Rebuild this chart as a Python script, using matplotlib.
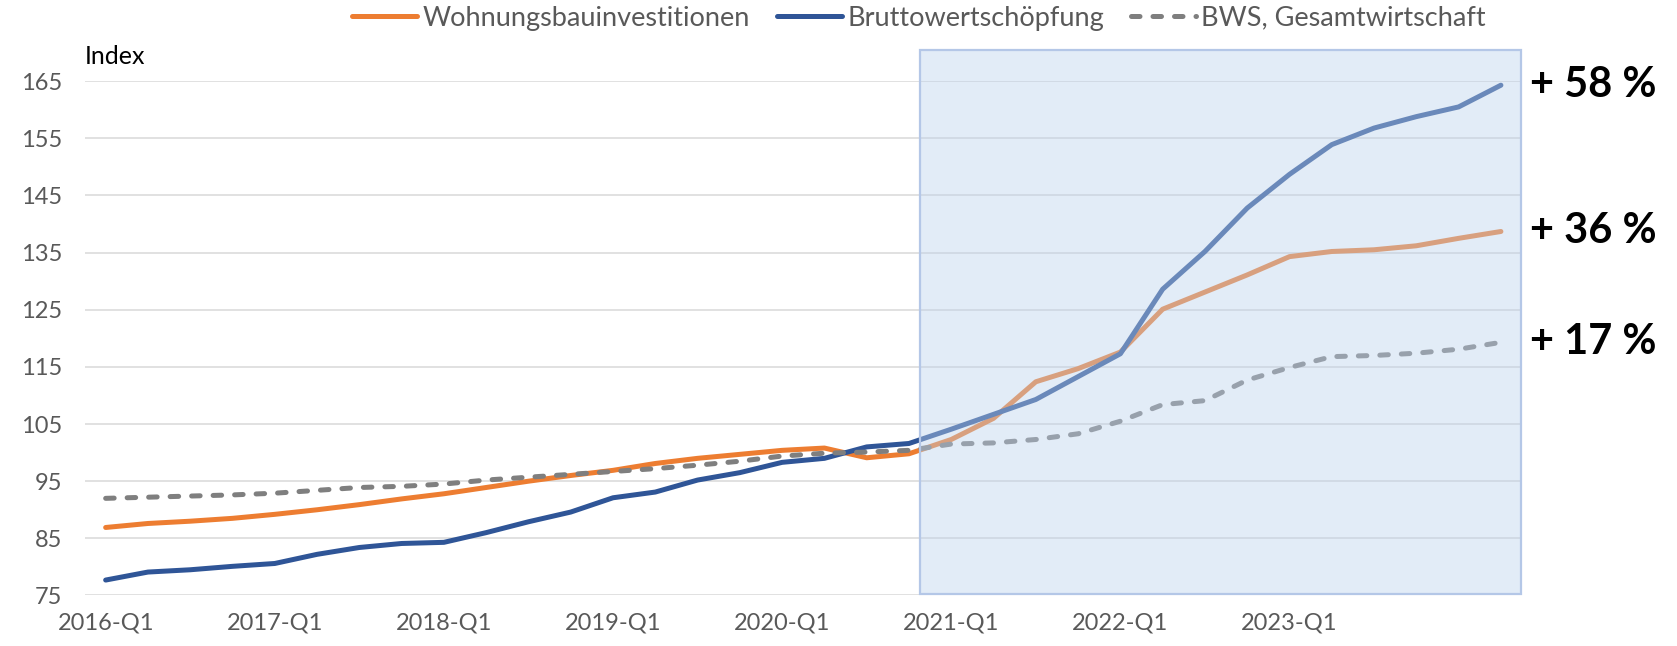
import matplotlib
matplotlib.use('Agg')
import matplotlib.pyplot as plt
from matplotlib.patches import Rectangle
import numpy as np

plt.rcParams['font.family'] = ['Lato', 'DejaVu Sans']

# quarterly index values, 2016-Q1 .. 2024-Q2
quarters = ['%d-Q%d' % (y, q) for y in range(2016, 2025) for q in range(1, 5)][:34]

wohnbau = [86.9, 87.6, 88.0, 88.5, 89.2, 90.0, 90.9, 91.9, 92.8, 93.9,
           95.0, 96.0, 96.9, 98.1, 99.0, 99.7, 100.4, 100.8, 99.1, 99.8,
           102.3, 106.0, 112.4, 114.7, 117.6, 125.1, 128.1, 131.1, 134.3, 135.2,
           135.5, 136.2, 137.5, 138.7]
bws_bau = [77.7, 79.1, 79.5, 80.1, 80.6, 82.2, 83.4, 84.1, 84.3, 86.0,
           87.9, 89.6, 92.1, 93.1, 95.2, 96.5, 98.3, 99.0, 101.0, 101.6,
           104.1, 106.7, 109.3, 113.3, 117.3, 128.6, 135.2, 142.8, 148.7, 153.9,
           156.8, 158.8, 160.5, 164.3]
bws_gesamt = [92.0, 92.2, 92.4, 92.6, 92.9, 93.4, 93.9, 94.1, 94.5, 95.2,
              95.7, 96.2, 96.7, 97.2, 97.8, 98.5, 99.4, 99.9, 100.1, 100.4,
              101.5, 101.7, 102.3, 103.3, 105.5, 108.4, 109.1, 112.7, 114.9, 116.8,
              117.0, 117.4, 118.1, 119.3]

labels_series = ['Wohnungsbauinvestitionen', 'Bruttowertschöpfung', 'BWS, Gesamtwirtschaft']
growth_labels = ['+ 36 %', '+ 58 %', '+ 17 %']
tick_labels = ['2016-Q1', '2017-Q1', '2018-Q1', '2019-Q1', '2020-Q1', '2021-Q1', '2022-Q1', '2023-Q1']
yticks = np.arange(75, 166, 10)

c_orange = '#ED7D31'
c_blue = '#2F5597'
c_gray = '#7F7F7F'
c_text = '#595959'

#----------------------------------------------------------------------------------------------
fig = plt.figure(figsize=(16.77, 6.46), dpi=100)
ax = fig.add_axes([0.0504, 0.0782, 0.8572, 0.7961])

x = np.arange(len(quarters))
lw = 3.6
ax.plot(x, wohnbau, color=c_orange, lw=lw, solid_capstyle='round', label=labels_series[0], zorder=3)
ax.plot(x, bws_bau, color=c_blue, lw=lw, solid_capstyle='round', label=labels_series[1], zorder=3)
ax.plot(x, bws_gesamt, color=c_gray, lw=lw, dashes=(1.7, 2.6), dash_capstyle='round',
        label=labels_series[2], zorder=3)

# highlighted period (semi-transparent box over the lines)
box = Rectangle((19.25, 75.3), 33.47 - 19.25, 170.5 - 75.3, facecolor='#BCD2EC', alpha=0.42,
                edgecolor='none', zorder=4, clip_on=False)
ax.add_patch(box)
edge = Rectangle((19.25, 75.3), 33.47 - 19.25, 170.5 - 75.3, facecolor='none',
                 edgecolor='#B4C7E7', lw=1.6, zorder=5, clip_on=False)
ax.add_patch(edge)

ax.set_xlim(-0.5, 33.5)
ax.set_ylim(75, 165)
ax.set_yticks(yticks)
ax.set_xticks(np.arange(0, 29, 4))
ax.set_xticklabels(tick_labels)
ax.yaxis.grid(True, color='#D9D9D9', lw=1.1, zorder=0)
ax.set_axisbelow(True)
for s in ax.spines.values():
    s.set_visible(False)
ax.tick_params(axis='both', length=0, labelsize=17, colors=c_text)
ax.tick_params(axis='x', pad=12)
ax.tick_params(axis='y', pad=16)

ax.text(0.0, 1.025, 'Index', transform=ax.transAxes, fontsize=18, color='black',
        ha='left', va='bottom')

# growth labels at end of lines
for vals, lab in zip([wohnbau, bws_bau, bws_gesamt], growth_labels):
    ax.annotate(lab, xy=(x[-1], vals[-1]), xytext=(21, 0), textcoords='offset points',
                fontsize=30, fontweight='bold', color='black', va='center', ha='left',
                annotation_clip=False)

fig.legend(loc='center', bbox_to_anchor=(0.548, 0.972), ncol=3, frameon=False,
           fontsize=19.5, handlelength=2.4, columnspacing=1.0, handletextpad=0.2,
           labelcolor=c_text)

plt.savefig('out.png', dpi=100)
